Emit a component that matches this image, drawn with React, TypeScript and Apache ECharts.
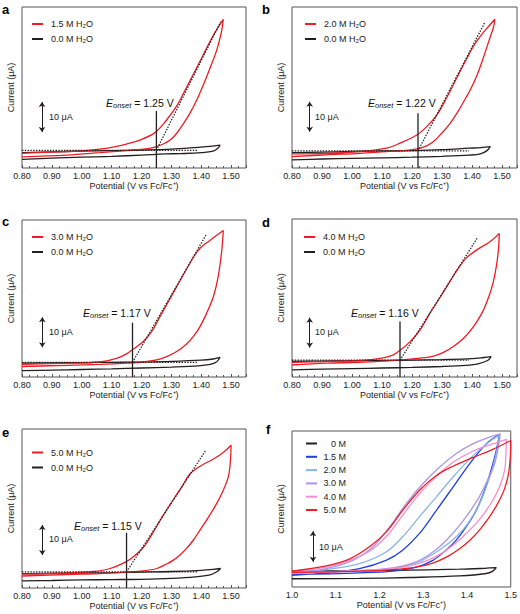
import React, { useEffect, useRef } from 'react';
import * as echarts from 'echarts';

const FONT = '"Liberation Sans", Arial, Helvetica, sans-serif';
const RED = '#ee1c24';
const BLACK = '#231f20';
const TXT = '#222';

// ---------- data: panels a–e (V vs Fc/Fc+, current in µA relative to baseline) ----------
const redA_fwd = [[0.80,-1.0],[0.85,-0.8],[0.90,-0.6],[0.95,-0.4],[1.00,-0.2],[1.06,0.4],[1.10,1.0],[1.15,2.1],[1.195,3.4],[1.245,5.9],[1.284,10.1],[1.318,14.8],[1.351,21.0],[1.396,29.7],[1.441,38.4],[1.474,43.7]];
const redA_rev = [[1.469,40.1],[1.452,33.4],[1.429,27.3],[1.407,21.8],[1.385,16.8],[1.362,12.3],[1.34,8.8],[1.318,5.7],[1.296,3.4],[1.273,2.1],[1.245,1.1],[1.206,0.4],[1.15,-0.1],[1.061,-0.8],[0.95,-1.6],[0.80,-2.2]];
const blackA_fwd = [[0.80,-0.8],[0.90,-0.5],[1.00,-0.3],[1.10,-0.1],[1.20,0.1],[1.30,0.4],[1.39,1.0],[1.43,1.3],[1.463,1.7]];
const blackA_rev = [[1.455,0.6],[1.44,-0.3],[1.40,-0.8],[1.33,-1.1],[1.28,-1.2],[1.20,-1.6],[1.10,-2.0],[1.00,-2.3],[0.90,-2.6],[0.80,-3.0]];

const redB_fwd = [[0.80,-1.0],[0.915,-0.8],[1.026,-0.2],[1.115,0.9],[1.16,2.6],[1.216,5.3],[1.249,8.1],[1.283,12.0],[1.316,17.8],[1.35,24.5],[1.38,30.3],[1.405,34.9],[1.43,38.5],[1.455,41.5],[1.476,43.9]];
const redB_rev = [[1.472,41.4],[1.461,38.1],[1.439,31.4],[1.417,25.3],[1.394,20.3],[1.372,16.4],[1.35,12.6],[1.327,9.2],[1.299,5.9],[1.272,3.1],[1.249,1.7],[1.216,0.7],[1.171,0.1],[1.115,-0.2],[1.026,-0.8],[0.915,-1.3],[0.80,-1.9]];
const blackB_fwd = [[0.80,-0.6],[0.90,-0.4],[1.00,-0.2],[1.10,0.0],[1.20,0.1],[1.30,0.4],[1.39,0.9],[1.43,1.1],[1.461,1.4]];
const blackB_rev = [[1.45,0.1],[1.428,-1.0],[1.39,-1.4],[1.30,-1.8],[1.20,-2.1],[1.10,-2.3],[1.00,-2.5],[0.90,-2.7],[0.80,-3.0]];

const redC_fwd = [[0.80,-0.7],[0.95,-0.3],[1.061,0.1],[1.117,1.3],[1.15,2.8],[1.173,4.4],[1.206,6.9],[1.234,10.2],[1.262,15.2],[1.318,25.2],[1.374,35.0],[1.396,38.0],[1.429,40.6],[1.474,43.9]];
const redC_rev = [[1.469,37.4],[1.457,28.6],[1.441,21.9],[1.418,16.3],[1.396,11.9],[1.374,8.6],[1.351,6.1],[1.318,3.6],[1.284,1.9],[1.251,0.8],[1.206,0.1],[1.15,-0.3],[1.061,-0.7],[0.95,-1.0],[0.80,-1.4]];
const blackC_fwd = [[0.80,-0.3],[0.90,-0.2],[1.00,-0.1],[1.10,0.0],[1.20,0.1],[1.30,0.3],[1.40,0.7],[1.44,1.1],[1.463,1.6]];
const blackC_rev = [[1.452,0.2],[1.43,-0.7],[1.39,-1.2],[1.30,-1.6],[1.20,-1.9],[1.10,-2.2],[1.00,-2.4],[0.90,-2.6],[0.80,-2.8]];

const redD_fwd = [[0.80,-0.7],[0.915,-0.4],[1.026,-0.1],[1.104,0.8],[1.138,1.8],[1.162,3.4],[1.194,6.2],[1.227,10.1],[1.26,15.7],[1.294,21.0],[1.327,26.4],[1.361,31.6],[1.383,34.3],[1.416,36.8],[1.461,39.6],[1.491,42.3]];
const redD_rev = [[1.488,36.8],[1.481,31.2],[1.47,25.7],[1.456,21.2],[1.433,15.7],[1.405,11.2],[1.372,7.3],[1.338,4.6],[1.305,2.6],[1.272,1.4],[1.227,0.7],[1.171,0.2],[1.115,-0.2],[1.026,-0.7],[0.915,-1.0],[0.80,-1.6]];
const blackD_fwd = [[0.80,-0.4],[0.90,-0.3],[1.00,-0.2],[1.10,-0.1],[1.20,0.0],[1.30,0.2],[1.40,0.5],[1.44,0.9],[1.464,1.2]];
const blackD_rev = [[1.452,-0.1],[1.42,-1.2],[1.38,-1.7],[1.30,-2.1],[1.20,-2.4],[1.10,-2.6],[1.00,-2.8],[0.90,-3.0],[0.80,-3.2]];

const redE_fwd = [[0.80,-0.8],[0.95,-0.4],[1.039,0.1],[1.095,1.1],[1.148,3.3],[1.173,5.0],[1.206,8.1],[1.24,13.3],[1.273,18.9],[1.307,24.1],[1.335,28.3],[1.362,32.6],[1.396,35.2],[1.441,37.6],[1.474,39.8],[1.50,42.2]];
const redE_rev = [[1.498,37.2],[1.491,31.7],[1.474,27.2],[1.452,22.8],[1.418,17.2],[1.396,13.9],[1.374,10.6],[1.351,7.8],[1.329,5.6],[1.307,3.9],[1.284,2.6],[1.251,1.1],[1.206,0.3],[1.15,-0.1],[1.061,-0.6],[0.95,-0.9],[0.80,-1.4]];
const blackE_fwd = [[0.80,-0.6],[0.90,-0.5],[1.00,-0.4],[1.10,-0.3],[1.20,-0.1],[1.30,0.1],[1.40,0.5],[1.44,0.8],[1.465,1.1]];
const blackE_rev = [[1.452,0.0],[1.43,-1.0],[1.38,-1.7],[1.30,-2.2],[1.20,-2.5],[1.10,-2.6],[1.00,-2.7],[0.90,-2.9],[0.80,-3.0]];

const waterLabels = ['1.5 M H₂O', '2.0 M H₂O', '3.0 M H₂O', '4.0 M H₂O', '5.0 M H₂O'];
const dryLabel = '0.0 M H₂O';
const onsetValues = [1.25, 1.22, 1.17, 1.16, 1.15];
const onsetLineTops = [13.1, 12.6, 13.2, 12.9, 13.0];
const tangentEnds = [[1.465, 42.9], [1.444, 43.1], [1.416, 42.4], [1.419, 41.0], [1.416, 40.6]];
const baselineEnd = 1.39;

// ---------- data: panel f ----------
const f0_fwd = [[1.0,0.3],[1.10,0.35],[1.231,0.5],[1.383,0.9],[1.44,1.2],[1.467,1.4]];
const f0_rev = [[1.459,0.3],[1.444,-0.5],[1.383,-1.3],[1.269,-1.8],[1.154,-2.1],[1.0,-2.2]];
const f15_fwd = [[1.0,-1.1],[1.078,-0.3],[1.154,1.1],[1.215,3.8],[1.253,7.1],[1.291,12.5],[1.33,20.1],[1.368,27.7],[1.406,35.3],[1.444,41.8],[1.474,44.8]];
const f15_rev = [[1.467,39.7],[1.455,33.2],[1.44,26.6],[1.421,20.1],[1.398,14.7],[1.375,10.3],[1.352,7.1],[1.322,3.8],[1.284,1.6],[1.231,0.3],[1.154,-0.3],[1.0,-0.9]];
const f20_fwd = [[1.0,0.0],[1.078,0.8],[1.154,2.7],[1.215,6.5],[1.253,11.5],[1.291,18.0],[1.33,24.5],[1.368,31.0],[1.413,37.8],[1.451,42.5],[1.474,44.6]];
const f20_rev = [[1.47,40.8],[1.459,34.2],[1.444,27.7],[1.425,21.2],[1.402,15.8],[1.379,12.0],[1.352,8.7],[1.322,5.8],[1.284,2.9],[1.231,1.1],[1.154,0.3],[1.0,-0.3]];
const f30_fwd = [[1.0,-0.2],[1.078,1.1],[1.139,3.8],[1.185,8.2],[1.223,14.7],[1.261,22.3],[1.299,28.8],[1.337,34.2],[1.375,38.6],[1.413,41.8],[1.451,44.0],[1.476,45.1]];
const f30_rev = [[1.473,41.8],[1.463,35.3],[1.447,29.9],[1.428,24.5],[1.406,19.6],[1.383,15.2],[1.36,11.4],[1.337,8.2],[1.311,5.4],[1.276,2.9],[1.231,1.3],[1.154,0.5],[1.0,-0.5]];
const f40_fwd = [[1.0,0.1],[1.078,1.6],[1.132,3.8],[1.177,6.8],[1.215,11.5],[1.253,18.5],[1.291,25.5],[1.33,31.2],[1.368,35.8],[1.413,39.4],[1.459,41.8],[1.49,43.3]];
const f40_rev = [[1.489,38.6],[1.486,33.2],[1.474,27.7],[1.459,23.4],[1.436,18.5],[1.413,14.7],[1.39,11.4],[1.368,8.7],[1.341,6.0],[1.307,3.6],[1.269,2.0],[1.215,0.9],[1.154,0.4],[1.0,-0.3]];
const f50_fwd = [[1.0,0.3],[1.078,2.0],[1.132,4.3],[1.177,8.2],[1.215,13.0],[1.253,20.1],[1.291,26.6],[1.33,31.5],[1.368,34.5],[1.413,37.3],[1.459,40.0],[1.50,42.9]];
const f50_rev = [[1.499,37.5],[1.495,32.1],[1.486,27.2],[1.47,22.3],[1.451,17.9],[1.428,13.6],[1.406,10.3],[1.383,7.6],[1.356,5.1],[1.322,2.9],[1.284,1.6],[1.231,0.8],[1.154,0.3],[1.0,-0.1]];
const fLabels = ['0 M', '1.5 M', '2.0 M', '3.0 M', '4.0 M', '5.0 M'];

// scale bars (x position in V, lower end in µA), 10 µA long
const scaleBarX = [0.867, 0.859, 0.868, 0.859, 0.868, 1.048];
const scaleBarLow = [6.1, 6.4, 5.0, 4.2, 5.6, 3.3];
const scaleBarSpan = 10;

// ---------- layout ----------
const gridsLayout = [
  { left: 22, top: 7, width: 224, height: 161 },
  { left: 292, top: 7, width: 225, height: 161 },
  { left: 22, top: 220, width: 224, height: 157 },
  { left: 292, top: 219, width: 225, height: 158 },
  { left: 22, top: 429, width: 224, height: 159 },
  { left: 292, top: 431, width: 221, height: 156 },
];
const yRanges = [[-5.9, 47.8], [-5.7, 48.0], [-4.9, 47.4], [-5.6, 47.1], [-5.4, 47.6], [-4.9, 46.0]];
const panelLetters = ['a', 'b', 'c', 'd', 'e', 'f'];
const letterPos = [[2, 9.5], [262, 9.5], [2, 221], [262, 222], [2, 432], [266, 429.5]];
const onsetTextPos = [[106, 103], [368, 103], [83, 313], [351, 313], [74, 526]];
const scaleTextPos = [[49, 117], [315, 117], [49, 332], [315, 332], [49, 539], [319, 547]];
const legendPos = [[32, 19.5], [305, 19.5], [32, 232.5], [304, 232.5], [32, 448], [306, 439]];

const fColors = [BLACK, '#1f3fe0', '#8ab4ea', '#ab95e6', '#f58fce', RED];

export default function App() {
  const ref = useRef<HTMLDivElement>(null);
  useEffect(() => {
    if (!ref.current) return;
    const chart = echarts.init(ref.current, null, { renderer: 'svg' });

    const redLoops = [
      [...redA_fwd, ...redA_rev], [...redB_fwd, ...redB_rev], [...redC_fwd, ...redC_rev],
      [...redD_fwd, ...redD_rev], [...redE_fwd, ...redE_rev],
    ];
    const blackLoops = [
      [...blackA_fwd, ...blackA_rev], [...blackB_fwd, ...blackB_rev], [...blackC_fwd, ...blackC_rev],
      [...blackD_fwd, ...blackD_rev], [...blackE_fwd, ...blackE_rev],
    ];
    const fLoops = [
      [...f0_fwd, ...f0_rev], [...f15_fwd, ...f15_rev], [...f20_fwd, ...f20_rev],
      [...f30_fwd, ...f30_rev], [...f40_fwd, ...f40_rev], [...f50_fwd, ...f50_rev],
    ];

    const axisText = { fontSize: 9, color: TXT, fontFamily: FONT };
    const grid = gridsLayout.map((g) => ({
      ...g, show: true, borderColor: '#555', borderWidth: 1, backgroundColor: 'transparent', containLabel: false,
    }));
    const xAxis = gridsLayout.map((_, i) => {
      const isF = i === 5;
      return {
        type: 'value', gridIndex: i, min: isF ? 1.0 : 0.8, max: isF ? 1.5 : 1.55, interval: 0.1,
        axisLine: { show: false, onZero: false },
        axisTick: { show: !isF, inside: true, length: 3, lineStyle: { color: '#555' } },
        minorTick: { show: !isF, splitNumber: 4, length: 2, lineStyle: { color: '#555' } },
        splitLine: { show: false }, minorSplitLine: { show: false },
        axisLabel: {
          ...axisText, margin: 3,
          formatter: (v: number) => (Math.abs(v - 1.55) < 1e-6 ? '' : v.toFixed(isF ? 1 : 2)),
        },
        name: 'Potential (V vs Fc/Fc⁺)', nameLocation: 'middle', nameGap: 13, nameTextStyle: axisText,
      };
    });
    const yAxis = gridsLayout.map((_, i) => ({
      type: 'value', gridIndex: i, min: yRanges[i][0], max: yRanges[i][1],
      axisLine: { show: false, onZero: false }, axisTick: { show: false }, axisLabel: { show: false }, splitLine: { show: false },
      name: 'Current (μA)', nameLocation: 'middle', nameGap: 7, nameTextStyle: axisText,
    }));

    const scaleMark = (i: number) => ({
      silent: true, symbol: ['arrow', 'arrow'], symbolSize: 5, label: { show: false },
      lineStyle: { color: BLACK, width: 1, type: 'solid' }, emphasis: { disabled: true },
      data: [[{ coord: [scaleBarX[i], scaleBarLow[i]] }, { coord: [scaleBarX[i], scaleBarLow[i] + scaleBarSpan] }]],
    });

    const series: any[] = [];
    for (let i = 0; i < 5; i++) {
      const common = { type: 'line', xAxisIndex: i, yAxisIndex: i, showSymbol: false, symbol: 'none', silent: true };
      series.push({ ...common, name: dryLabel, data: blackLoops[i], color: BLACK, smooth: 0.35, lineStyle: { width: 1.3 }, z: 2 });
      series.push({ ...common, name: waterLabels[i], data: redLoops[i], color: RED, smooth: 0.35, lineStyle: { width: 1.3 }, z: 3 });
      series.push({ ...common, name: 'baseline' + i, data: [[0.8, 0], [baselineEnd, 0]], color: BLACK, lineStyle: { width: 1.3, type: [1.4, 1.4] }, z: 4 });
      series.push({ ...common, name: 'tangent' + i, data: [[onsetValues[i], 0], tangentEnds[i]], color: BLACK, lineStyle: { width: 1.3, type: [1.4, 1.4] }, z: 4 });
      series.push({
        ...common, name: 'onset' + i, data: [[onsetValues[i], yRanges[i][0]], [onsetValues[i], onsetLineTops[i]]],
        color: BLACK, lineStyle: { width: 1.3 }, z: 5, markLine: scaleMark(i),
      });
    }
    fLoops.forEach((d, k) => {
      series.push({
        type: 'line', xAxisIndex: 5, yAxisIndex: 5, showSymbol: false, symbol: 'none', silent: true,
        name: fLabels[k], data: d, color: fColors[k], smooth: 0.35, lineStyle: { width: 1.3 }, z: 2 + k,
        markLine: k === 0 ? scaleMark(5) : undefined,
      });
    });

    const legendCommon = {
      orient: 'vertical', icon: 'rect', itemWidth: 11, itemHeight: 2, selectedMode: false, padding: 0,
      textStyle: { fontSize: 9, color: TXT, fontFamily: FONT, padding: [0, 0, 0, 3] },
    };
    const legend: any[] = [];
    for (let i = 0; i < 5; i++) {
      legend.push({ ...legendCommon, left: legendPos[i][0], top: legendPos[i][1], itemGap: 6, data: [waterLabels[i], dryLabel] });
    }
    legend.push({
      ...legendCommon, left: legendPos[5][0], top: legendPos[5][1], itemGap: 4.3, data: fLabels,
      formatter: (n: string) => `{r|${n}}`,
      textStyle: { ...legendCommon.textStyle, padding: [0, 0, 0, 1], rich: { r: { width: 23, align: 'right', fontSize: 9, fontFamily: FONT, color: TXT } } },
    });

    const graphic: any[] = [];
    panelLetters.forEach((l, i) => {
      graphic.push({
        type: 'text', x: letterPos[i][0], y: letterPos[i][1],
        style: { text: l, font: `bold 13px ${FONT}`, fill: '#000', verticalAlign: 'middle', align: 'left' },
      });
    });
    onsetValues.forEach((v, i) => {
      graphic.push({
        type: 'text', x: onsetTextPos[i][0], y: onsetTextPos[i][1],
        style: {
          text: `{i|E}{s|onset}{n| = ${v.toFixed(2)} V}`,
          verticalAlign: 'middle', align: 'left',
          rich: {
            i: { fontSize: 10.5, fontStyle: 'italic', fontFamily: FONT, fill: '#111', lineHeight: 13, verticalAlign: 'middle' },
            s: { fontSize: 7.5, fontStyle: 'italic', fontFamily: FONT, fill: '#111', lineHeight: 7, verticalAlign: 'bottom' },
            n: { fontSize: 10.5, fontFamily: FONT, fill: '#111', lineHeight: 13, verticalAlign: 'middle' },
          },
        },
      });
    });
    scaleTextPos.forEach((p) => {
      graphic.push({
        type: 'text', x: p[0], y: p[1],
        style: { text: `${scaleBarSpan} μA`, fontSize: 9, fontFamily: FONT, fill: TXT, verticalAlign: 'middle', align: 'left' },
      });
    });

    chart.setOption({ animation: false, grid, xAxis, yAxis, series, legend, graphic });
    return () => chart.dispose();
  }, []);
  return <div ref={ref} style={{ position: 'fixed', left: 0, top: 0, width: 520, height: 614, background: '#fff' }} />;
}
